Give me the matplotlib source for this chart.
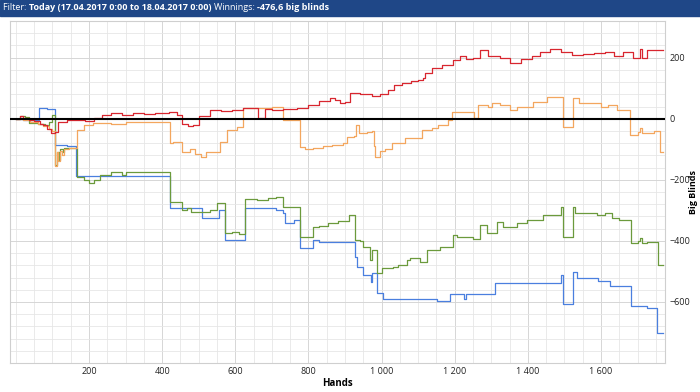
import matplotlib.pyplot as plt
from matplotlib.ticker import MultipleLocator, FuncFormatter

plt.rcParams['font.family'] = ['Open Sans', 'DejaVu Sans']

# breakpoints (hands, big blinds)
red_x = [0, 10, 20, 35, 50, 65, 75, 85, 95, 107, 115, 140, 165, 190, 215, 235, 260, 290, 320,
         350, 380, 420, 440, 455, 470, 485, 500, 530, 560, 590, 620, 645, 662, 680, 700, 730, 770,
         800, 830, 858, 872, 885, 900, 913, 940, 973, 995, 1017, 1035, 1055, 1080, 1100, 1113, 1118,
         1137, 1165, 1195, 1214, 1230, 1250, 1269, 1290, 1318, 1323, 1351, 1380, 1410, 1433, 1460,
         1490, 1520, 1550, 1580, 1610, 1635, 1660, 1687, 1706, 1712, 1725, 1770]
red_y = [0, 8, 2, -3, -8, -18, -22, -35, -46, -45, -10, -5, -3, -8, 3, 13, 20, 12, 19,
         17, 19, 22, 12, -18, -25, -20, 10, 27, 24, 28, 35, 36, 3, 32, 30, 31, 36,
         45, 57, 69, 62, 52, 55, 85, 80, 75, 82, 95, 110, 117, 122, 128, 134, 150,
         166, 177, 193, 204, 195, 198, 226, 204, 204, 200, 183, 195, 205, 220, 229,
         220, 210, 212, 214, 218, 204, 218, 200, 229, 200, 226, 226]

orange_x = [0, 20, 40, 60, 75, 90, 100, 107, 112, 116, 121, 126, 131, 145, 167, 185, 210, 260, 300,
            350, 421, 430, 454, 475, 490, 505, 520, 545, 558, 577, 605, 620, 700, 730, 777, 790,
            813, 840, 865, 894, 905, 925, 930, 937, 960, 975, 980, 983, 995, 1010, 1028, 1064,
            1110, 1137, 1154, 1181, 1192, 1247, 1252, 1263, 1290, 1301, 1323, 1351, 1370, 1395,
            1414, 1452, 1496, 1523, 1540, 1600, 1620, 1643, 1679, 1700, 1706, 1712, 1730, 1745,
            1761, 1770]
orange_y = [0, -5, -12, -18, -25, -35, -40, -155, -110, -140, -105, -120, -98, -95, -36, -22, -15, -18, -12,
            -10, -79, -75, -108, -100, -115, -124, -110, -108, -75, -36, -26, 35, 38, -3, -91, -100,
            -95, -90, -85, -79, -60, -55, -20, -46, -45, -40, -90, -124, -105, -100, -79, -63,
            -36, -30, -20, -3, 23, 23, 3, 46, 40, 52, 46, 30, 38, 40,
            56, 72, -26, 69, 52, 40, 45, 30, -52, -45, -30, -48, -46, -40,
            -108, -108]

green_x = [0, 10, 25, 35, 60, 80, 90, 100, 107, 112, 117, 122, 128, 133, 167, 185, 200, 215, 230,
           260, 290, 300, 421, 440, 455, 467, 480, 508, 530, 549, 572, 590, 610, 626, 660, 690,
           710, 730, 777, 813, 830, 853, 880, 910, 927, 940, 950, 968, 973, 987, 1000, 1030,
           1045, 1070, 1077, 1096, 1105, 1124, 1159, 1195, 1205, 1230, 1250, 1269, 1288, 1315,
           1331, 1370, 1397, 1441, 1490, 1496, 1523, 1530, 1590, 1610, 1630, 1650, 1681, 1700,
           1706, 1712, 1725, 1755, 1770]
green_y = [0, 10, 5, -15, -18, -22, -10, 12, -150, -108, -135, -100, -110, -95, -190, -200, -210, -200, -184,
           -174, -184, -174, -272, -272, -298, -292, -305, -305, -300, -276, -374, -370, -378, -262, -265, -260,
           -255, -288, -387, -354, -350, -341, -335, -315, -397, -400, -420, -462, -430, -505, -489, -485,
           -479, -462, -456, -456, -470, -430, -420, -380, -387, -387, -395, -348, -374, -338,
           -354, -341, -331, -315, -288, -387, -288, -310, -315, -310, -325, -331, -407, -400,
           -390, -407, -403, -479, -479]

blue_x = [0, 20, 63, 85, 107, 140, 164, 421, 467, 508, 549, 555, 572, 626, 710, 730, 735, 760, 777,
          813, 830, 927, 932, 949, 970, 975, 987, 1003, 1151, 1187, 1220, 1226, 1232, 1310, 1490,
          1496, 1523, 1534, 1591, 1624, 1681, 1725, 1753, 1770]
blue_y = [0, -3, 36, 33, -85, -88, -187, -292, -292, -325, -325, -298, -397, -292, -298, -310, -341, -332, -423,
          -397, -403, -452, -485, -511, -534, -505, -571, -590, -597, -575, -575, -590, -575, -537, -511,
          -606, -501, -521, -530, -547, -613, -620, -702, -702]

x_ticks = [200, 400, 600, 800, 1000, 1200, 1400, 1600]
y_ticks = [-600, -400, -200, 0, 200]

fig = plt.figure(figsize=(7, 3.92), dpi=100)
ax = fig.add_axes([10 / 700, 29 / 392, 655 / 700, 342 / 392])

ax.plot(blue_x, blue_y, color='#4a7fdf', lw=0.9, drawstyle='steps-post')
ax.plot(green_x, green_y, color='#6b9a3c', lw=0.9, drawstyle='steps-post')
ax.plot(orange_x, orange_y, color='#f3a65e', lw=0.9, drawstyle='steps-post')
ax.plot(red_x, red_y, color='#d8262f', lw=0.9, drawstyle='steps-post')
ax.axhline(0, color='black', lw=1.5, zorder=5)

ax.set_xlim(-16, 1775)
ax.set_ylim(-800, 320)
ax.set_xticks(x_ticks)
ax.set_yticks(y_ticks)
ax.xaxis.set_minor_locator(MultipleLocator(50))
ax.yaxis.set_minor_locator(MultipleLocator(40))
ax.xaxis.set_major_formatter(FuncFormatter(lambda v, p: f"{int(v):,}".replace(',', ' ')))
ax.grid(True, which='major', color='#d6d6d6', lw=0.7)
ax.grid(True, which='minor', color='#e6e6e6', lw=0.6)
ax.set_axisbelow(True)
ax.yaxis.tick_right()
ax.tick_params(which='both', length=0, labelsize=6.5, colors='#222222', pad=3)
for s in ax.spines.values():
    s.set_color('#cfcfcf')
    s.set_linewidth(0.8)

fig.text(337 / 700, 1 - 383 / 392, 'Hands', fontsize=7, fontweight='bold', ha='center', va='center')
fig.text(693 / 700, 1 - 192 / 392, 'Big Blinds', fontsize=6.5, fontweight='bold', rotation=90,
         ha='center', va='center')

# header bar
fig.patches.append(plt.Rectangle((0, 1 - 16 / 392), 1, 16 / 392, transform=fig.transFigure,
                                 color='#1f4787', zorder=0))
parts = [('Filter: ', 'normal'), ('Today (17.04.2017 0:00 to 18.04.2017 0:00) ', 'bold'),
         ('Winnings: ', 'normal'), ('-476,6 big blinds', 'bold')]
renderer = fig.canvas.get_renderer()
xpos = 3 / 700
for txt, w in parts:
    t = fig.text(xpos, 1 - 8 / 392, txt, color='white', fontsize=6.5, fontweight=w, va='center')
    bb = t.get_window_extent(renderer)
    xpos += bb.width / fig.bbox.width

fig.savefig('out.png', dpi=100)
